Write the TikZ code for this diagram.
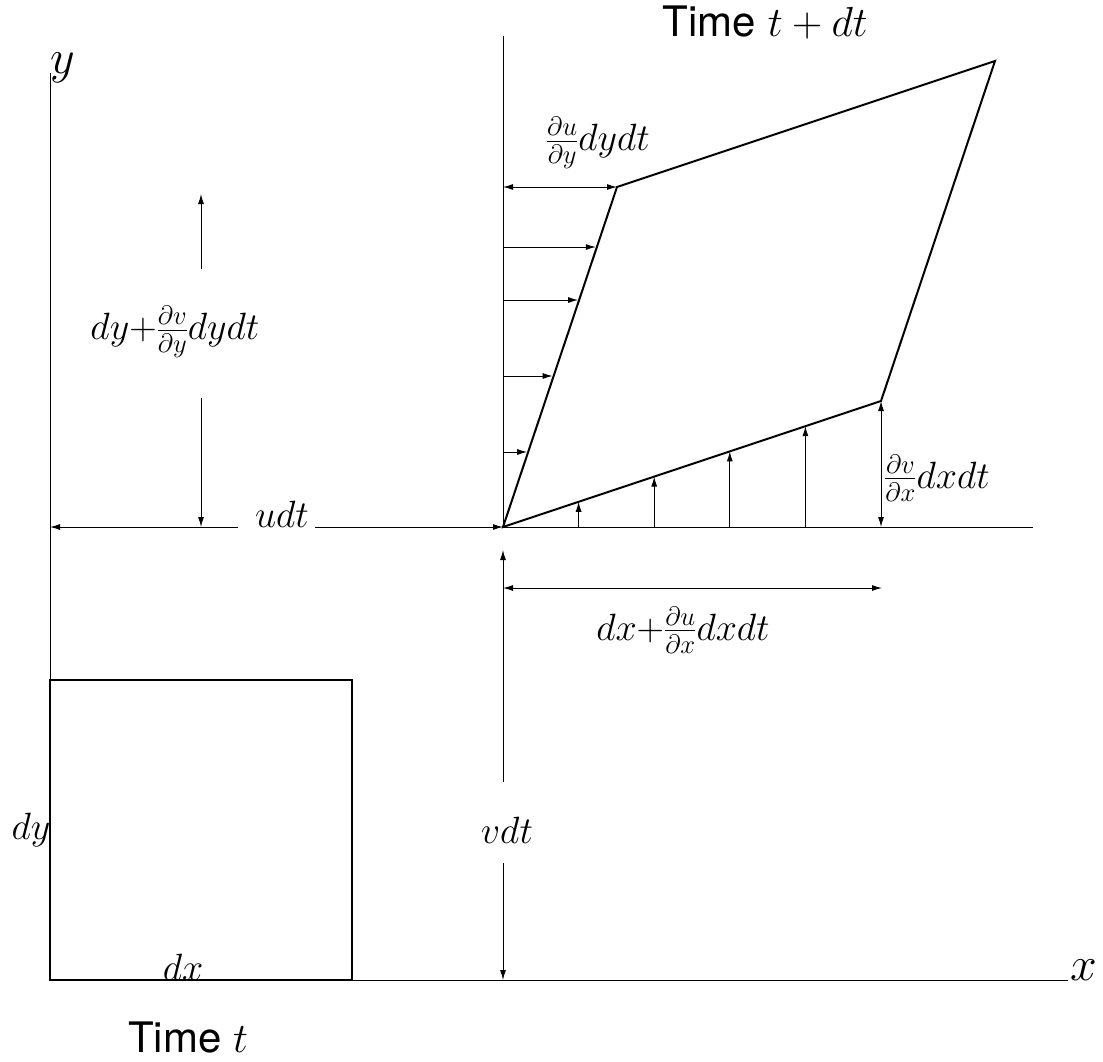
\RequirePackage{fix-cm}
\documentclass[tikz,border=0pt]{standalone}
\usepackage{fontspec}
\newfontfamily\heros{TeX Gyre Heros}
\usetikzlibrary{arrows.meta,calc}
\begin{document}
\begin{tikzpicture}[x=1pt,y=-1pt,
  thinline/.style={line width=1pt},
  thickline/.style={line width=2pt, line join=miter},
  arr/.style={line width=1pt,-{Latex[length=10pt,width=6pt]}},
  darr/.style={line width=1pt,{Latex[length=10pt,width=6pt]}-{Latex[length=10pt,width=6pt]}},
  lab/.style={font=\fontsize{38}{42}\selectfont, inner sep=0pt},
  axlab/.style={font=\fontsize{48}{54}\selectfont, inner sep=0pt},
  timelab/.style={font=\heros\fontsize{42}{46}\selectfont, inner sep=0pt}]
\useasboundingbox (0,0) rectangle (1103,1061);

% key points
\coordinate (O) at (50,980);
\coordinate (Ytop) at (50,73);
\coordinate (Xend) at (1068,980);
\coordinate (A) at (503,527);
\coordinate (B) at (881,401);
\coordinate (C) at (995,61);
\coordinate (D) at (617,187);
\coordinate (Vtop) at (503,36);
\coordinate (Lend) at (50,527);
\coordinate (Rend) at (1033,527);
\coordinate (S1) at (50,680);
\coordinate (S2) at (352,680);
\coordinate (S3) at (352,980);

% axes and guide lines
\draw[thinline] (Ytop) -- (O) -- (Xend);
\draw[thinline] (Vtop) -- (A);
\draw[thinline] (A) -- (Rend);

% element at time t
\draw[thickline] (O) -- (S1) -- (S2) -- (S3) -- cycle;
% element at time t+dt
\draw[thickline] (A) -- (B) -- (C) -- (D) -- cycle;

% axis labels
\node[axlab, anchor=base west] (xl) at (1070,980) {$x$};
\node[axlab, anchor=base west] (yl) at (50,73) {$y$};

% time labels
\node[timelab, anchor=base east] (ttop) at (868,36) {Time $t+dt$};
\node[timelab, anchor=base west] (tbot) at (128,1052) {Time $t$};

% square labels
\node[lab, anchor=base] (dxs) at (183,980) {$dx$};
\node[lab, anchor=base] (dys) at (31,839) {$dy$};

% udt
\node[lab, anchor=base] (udt) at (282,527) {$udt$};
\coordinate (uL) at (238,527);
\coordinate (uR) at (315,527);
\draw[arr] (uL) -- (Lend);
\draw[arr] (uR) -- (A);

% vdt
\node[lab] (vdt) at (507,830) {$vdt$};
\coordinate (vT) at (503,782);
\coordinate (vTip) at (503,550);
\coordinate (vB) at (503,863);
\coordinate (vBase) at (503,980);
\draw[arr] (vT) -- (vTip);
\draw[arr] (vB) -- (vBase);

% dy + dv/dy dy dt
\node[lab] (dyl) at (175,332) {$dy{+}\frac{\partial v}{\partial y}dydt$};
\coordinate (h1) at (201,269);
\coordinate (h1t) at (201,194);
\coordinate (h2) at (201,398);
\coordinate (h2t) at (201,527);
\draw[arr] (h1) -- (h1t);
\draw[arr] (h2) -- (h2t);

% du/dy dy dt
\node[lab] (duy) at (598,143) {$\frac{\partial u}{\partial y}dydt$};
\coordinate (Dl) at (503,187);
\draw[darr] (Dl) -- (D);

% dv/dx dx dt
\node[lab, anchor=west] (dvx) at (884,478) {$\frac{\partial v}{\partial x}dxdt$};
\coordinate (Bb) at (881,527);
\draw[darr] (Bb) -- (B);

% dx + du/dx dx dt
\node[lab] (dxl) at (683,630) {$dx{+}\frac{\partial u}{\partial x}dxdt$};
\coordinate (dxa) at (503,588);
\coordinate (dxb) at (882,588);
\draw[darr] (dxa) -- (dxb);

% shear arrows on the left edge
\foreach \t [count=\i] in {0.2206,0.4441,0.6676,0.8235}{
  \coordinate (e\i) at ($(A)!\t!(D)$);
  \draw[arr] (A |- e\i) -- ($(e\i)+(-1,0)$);
}
% vertical arrows on the bottom edge
\foreach \t [count=\i] in {0.2,0.4,0.6,0.8}{
  \coordinate (f\i) at ($(A)!\t!(B)$);
  \draw[arr] (A -| f\i) -- (f\i);
}
\end{tikzpicture}
\end{document}
